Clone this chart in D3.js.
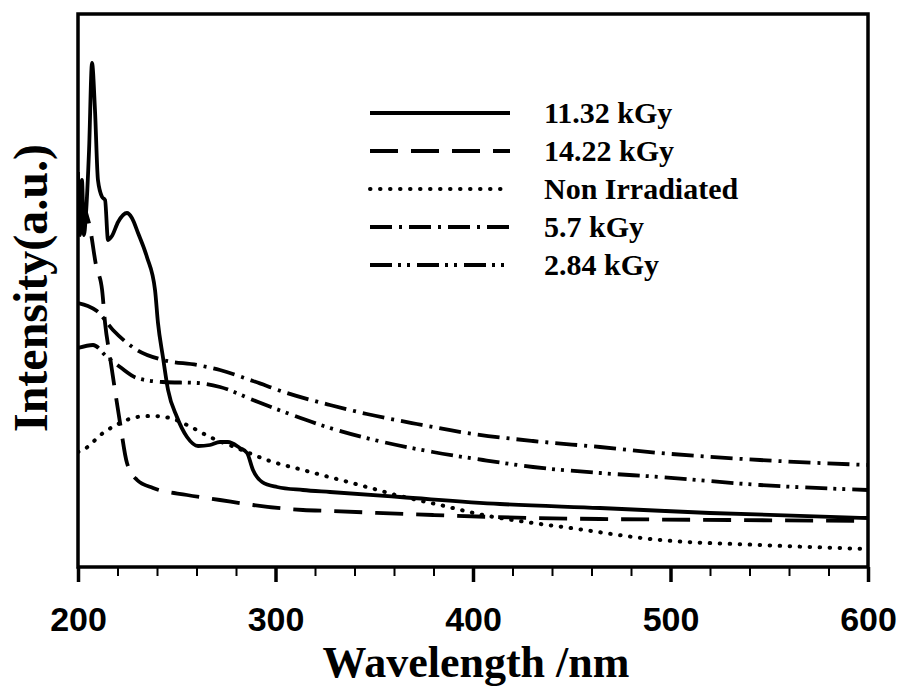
<!DOCTYPE html>
<html>
<head>
<meta charset="utf-8">
<script src="https://cdn.jsdelivr.net/npm/d3@7"></script>
<style>
  body { margin: 0; background: #fff; }
</style>
</head>
<body>
<svg width="904" height="688"></svg>
<script>
var width = 904;
var height = 688;
var margin = { top: 14, right: 36, bottom: 121, left: 78 };

// series values (wavelength nm / intensity a.u.)
var wl1132 = [200, 201, 202, 203, 204, 205.6, 207.1, 208.6, 210.1, 212.2, 213.7, 215.2, 217.2, 220.3, 224.8, 227.3, 230.4, 234.9, 239, 240.5, 243, 245.6, 250.1, 255.2, 260.8, 266.8, 271.9, 275.9, 282, 285.6, 288.6, 293.2, 300.8, 313.9, 327.6, 363, 413.7, 464.3, 520, 600];
var int1132 = [3.95, 3.32, 3.87, 3.32, 3.52, 4.17, 5.04, 4.57, 3.87, 3.70, 3.67, 3.27, 3.31, 3.45, 3.54, 3.49, 3.34, 3.10, 2.77, 2.44, 2.10, 1.77, 1.50, 1.30, 1.21, 1.22, 1.25, 1.25, 1.19, 1.14, 0.97, 0.85, 0.80, 0.77, 0.75, 0.70, 0.63, 0.59, 0.54, 0.49];

var wl1422 = [201, 206.1, 209.1, 212.2, 213.7, 216.2, 218.7, 221.3, 224.8, 229.9, 238, 255.2, 271.9, 288.6, 313.9, 327.6, 379.7, 430.4, 464.3, 530, 600];
var int1422 = [3.70, 3.39, 3.02, 2.77, 2.44, 2.10, 1.77, 1.44, 1.04, 0.87, 0.79, 0.72, 0.67, 0.62, 0.57, 0.56, 0.52, 0.49, 0.48, 0.47, 0.46];

var wlNon = [200, 202.5, 212.7, 221.3, 229.9, 238, 246.6, 255.2, 266.8, 280.5, 297.2, 313.9, 329.1, 346.3, 363, 383.3, 405.1, 430.4, 445.6, 494.7, 545.3, 600];
var intNon = [1.15, 1.17, 1.34, 1.44, 1.50, 1.51, 1.49, 1.42, 1.30, 1.19, 1.06, 0.97, 0.89, 0.80, 0.71, 0.62, 0.52, 0.44, 0.40, 0.27, 0.22, 0.18];

var wl57 = [200, 205, 209.6, 217.7, 229.9, 243, 260.3, 271.9, 288.6, 305.8, 327.6, 346.3, 371.6, 397, 430.4, 464.3, 494.7, 545.3, 600];
var int57 = [2.64, 2.61, 2.56, 2.37, 2.17, 2.07, 2.02, 1.97, 1.86, 1.74, 1.62, 1.53, 1.43, 1.34, 1.26, 1.20, 1.14, 1.07, 1.02];

var wl284 = [200, 207.6, 214.7, 221.3, 229.9, 243, 260.3, 271.9, 288.6, 305.8, 327.6, 354.4, 379.7, 405.1, 430.4, 464.3, 494.7, 545.3, 600];
var int284 = [2.19, 2.22, 2.10, 2.00, 1.89, 1.85, 1.84, 1.80, 1.67, 1.54, 1.39, 1.25, 1.15, 1.07, 1.00, 0.94, 0.90, 0.82, 0.77];

var seriesNames = ['11.32 kGy', '14.22 kGy', 'Non Irradiated', '5.7 kGy', '2.84 kGy'];
var xTicks = [200, 300, 400, 500, 600];

var series = [
  { name: seriesNames[0], x: wl1132, y: int1132, dash: null, cap: 'butt' },
  { name: seriesNames[1], x: wl1422, y: int1422, dash: '28,13', cap: 'butt' },
  { name: seriesNames[2], x: wlNon, y: intNon, dash: '0.5,9.5', cap: 'round' },
  { name: seriesNames[3], x: wl57, y: int57, dash: '22,7,3,7', cap: 'butt' },
  { name: seriesNames[4], x: wl284, y: int284, dash: '22,6,3,6,3,7', cap: 'butt' }
];

var svg = d3.select('svg');

// scales
var xScale = d3.scaleLinear()
  .domain([200, 600])
  .range([margin.left, width - margin.right]);
var yScale = d3.scaleLinear()
  .domain([0, 5.53])
  .range([height - margin.bottom, margin.top]);

svg.append('clipPath').attr('id', 'plot')
  .append('rect')
  .attr('x', margin.left).attr('y', margin.top)
  .attr('width', width - margin.left - margin.right)
  .attr('height', height - margin.top - margin.bottom);

var line = d3.line()
  .x(d => xScale(d[0]))
  .y(d => yScale(d[1]))
  .curve(d3.curveMonotoneX);

var g = svg.append('g').attr('clip-path', 'url(#plot)');
series.forEach(s => {
  g.append('path')
    .attr('d', line(d3.zip(s.x, s.y)))
    .attr('fill', 'none')
    .attr('stroke', '#000')
    .attr('stroke-width', s.cap == 'round' ? 4 : 3.8)
    .attr('stroke-linejoin', 'round')
    .attr('stroke-linecap', s.cap)
    .attr('stroke-dasharray', s.dash);
});

// bottom axis: minor ticks every 20 nm, major every 100 nm
var minorAxis = d3.axisBottom(xScale)
  .tickValues(d3.range(200, 601, 20))
  .tickSize(9)
  .tickFormat('');
svg.append('g')
  .attr('transform', 'translate(0,' + (height - margin.bottom) + ')')
  .call(minorAxis)
  .call(a => a.select('.domain').remove())
  .selectAll('line').attr('stroke', '#000').attr('stroke-width', 2);

var xAxis = d3.axisBottom(xScale)
  .tickValues(xTicks)
  .tickSize(15)
  .tickPadding(10);
var xg = svg.append('g')
  .attr('transform', 'translate(0,' + (height - margin.bottom) + ')')
  .call(xAxis);
xg.select('.domain').remove();
xg.selectAll('line').attr('stroke', '#000').attr('stroke-width', 3.5);
xg.selectAll('text')
  .attr('y', 64)
  .attr('dy', 0)
  .attr('fill', '#000')
  .style('font-family', '"Liberation Sans", Arial, sans-serif')
  .style('font-weight', 'bold')
  .style('font-size', '34px');

// frame
svg.append('rect')
  .attr('x', margin.left).attr('y', margin.top)
  .attr('width', width - margin.left - margin.right)
  .attr('height', height - margin.top - margin.bottom)
  .attr('fill', 'none')
  .attr('stroke', '#000')
  .attr('stroke-width', 3.5);

// axis titles
svg.append('text')
  .attr('x', (margin.left + width - margin.right) / 2 + 3)
  .attr('y', 677)
  .attr('text-anchor', 'middle')
  .style('font-family', '"Liberation Serif", "Times New Roman", serif')
  .style('font-weight', 'bold')
  .style('font-size', '44px')
  .text('Wavelength /nm');

svg.append('text')
  .attr('transform', 'translate(47,288) rotate(-90)')
  .attr('text-anchor', 'middle')
  .style('font-family', '"Liberation Serif", "Times New Roman", serif')
  .style('font-weight', 'bold')
  .style('font-size', '48px')
  .text('Intensity(a.u.)');

// legend
var legY = d3.scaleLinear().domain([0, 4]).range([113, 265]);
var legend = svg.append('g');
series.forEach((s, i) => {
  legend.append('line')
    .attr('x1', 370).attr('x2', 510)
    .attr('y1', legY(i)).attr('y2', legY(i))
    .attr('stroke', '#000')
    .attr('stroke-width', s.cap == 'round' ? 4 : 3.8)
    .attr('stroke-linecap', s.cap)
    .attr('stroke-dasharray', s.dash);
  legend.append('text')
    .attr('x', 544)
    .attr('y', legY(i) + 10)
    .style('font-family', '"Liberation Serif", "Times New Roman", serif')
    .style('font-weight', 'bold')
    .style('font-size', '30px')
    .text(s.name);
});
</script>
</body>
</html>
